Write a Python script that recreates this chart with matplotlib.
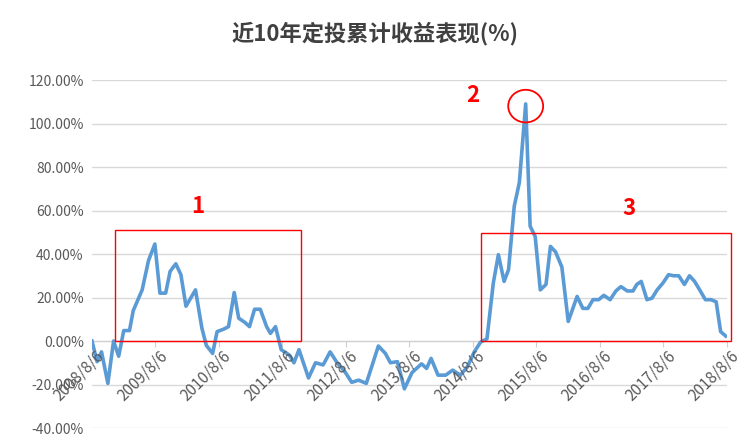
import matplotlib
matplotlib.use("Agg")
import matplotlib.pyplot as plt
from matplotlib.patches import Rectangle, Ellipse

plt.rcParams['font.family'] = ['Noto Sans CJK SC', 'DejaVu Sans']

# years since 2008/8/6
t = [0,.08,.15,.25,.34,.42,.5,.59,.65,.79,.89,.99,1.07,1.16,1.23,1.32,1.40,1.48,1.63,1.73,1.80,1.90,1.97,2.07,2.15,2.24,2.31,2.41,2.48,2.56,2.65,2.75,2.81,2.89,2.98,
     3.11,3.18,3.26,3.41,3.52,3.64,3.75,3.86,3.98,4.09,4.20,4.32,4.51,4.62,4.70,4.81,4.92,5.04,5.19,5.27,5.34,5.45,5.57,5.68,5.80,5.91,6.02,6.12,
     6.22,6.32,6.40,6.49,6.56,6.65,6.73,6.83,6.90,6.98,7.06,7.15,7.22,7.30,7.40,7.50,7.64,7.73,7.81,7.89,7.98,8.06,8.16,8.25,8.33,8.43,8.52,8.58,8.65,
     8.74,8.82,8.90,8.99,9.08,9.16,9.24,9.33,9.41,9.49,9.57,9.66,9.75,9.83,9.90,9.98]
v = [0,-9.5,-5,-19.5,0,-7,4.8,4.8,14,23.5,37,44.6,22,22,32,35.5,30.5,16,23.5,6,-2,-5.7,4.3,5.4,6.6,22.3,10.5,8.5,6.6,14.6,14.6,6.6,3.5,6.6,-4,
     -6.5,-10,-4,-17,-10,-11,-5,-10,-14,-19,-18,-19.5,-2.3,-5.7,-10,-9.5,-22,-14.5,-10.5,-12.6,-8,-15.7,-15.7,-13.4,-15.7,-12,-5,-0.5,
     1,26.6,39.7,27.4,32.8,62,72.8,109,52.8,48,23.5,26,43.5,41,34,9,20.5,15,15,19,19,21,19,23,25,23,23,26,27.4,
     19,19.7,23.5,26.6,30.5,30,30,26,30,27.4,23.5,19,19,18,4.3,2.3]
tick_labels = ["2008/8/6","2009/8/6","2010/8/6","2011/8/6","2012/8/6","2013/8/6",
               "2014/8/6","2015/8/6","2016/8/6","2017/8/6","2018/8/6"]
yticks = [-40,-20,0,20,40,60,80,100,120]

fig = plt.figure(figsize=(7.51,4.47), dpi=100)
ax = fig.add_axes([0.1225,0.0425,0.8455,0.7785])
ax.plot(t, v, color='#5B9BD5', lw=2.6, zorder=3)
ax.set_xlim(0,10)
ax.set_ylim(-40,120)
ax.set_yticks(yticks)
ax.set_yticklabels([f"{y:.2f}%" for y in yticks], fontsize=10, color='#595959')
ax.set_xticks(range(11))
ax.set_xticklabels([])
ax.tick_params(axis='y', length=0, pad=6)
ax.tick_params(axis='x', length=4, color='#d0d0d0')
for i, lab in enumerate(tick_labels):
    ax.text(i + 0.05, -3, lab, rotation=45, ha='right', va='top', rotation_mode='anchor',
            fontsize=11, color='#595959', zorder=5)
ax.grid(axis='y', color='#d9d9d9', lw=1)
for s in ['top','right','left']:
    ax.spines[s].set_visible(False)
ax.spines['bottom'].set_position(('data',0))
ax.spines['bottom'].set_color('#d0d0d0')
ax.set_axisbelow(True)

ax.add_patch(Rectangle((0.37,0),2.92,51,fill=False,ec='red',lw=1,zorder=4))
ax.add_patch(Rectangle((6.12,0),3.95,49.5,fill=False,ec='red',lw=1,zorder=4,clip_on=False))
ax.add_patch(Ellipse((6.83,108),0.55,15,fill=False,ec='red',lw=1.3,zorder=4))
ax.text(1.66,62,"1",color='red',fontsize=16,fontweight='bold',ha='center',va='center')
ax.text(5.99,113,"2",color='red',fontsize=16,fontweight='bold',ha='center',va='center')
ax.text(8.46,61,"3",color='red',fontsize=16,fontweight='bold',ha='center',va='center')

fig.text(0.5,0.925,"近10年定投累计收益表现(%)",ha='center',va='center',fontsize=16,fontweight='bold',color='#404040')
fig.savefig("out.png")
